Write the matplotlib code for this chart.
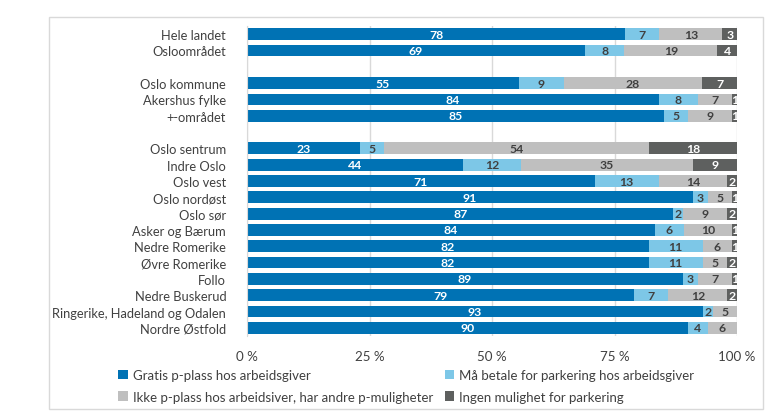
import matplotlib.pyplot as plt
from matplotlib.patches import Rectangle
import numpy as np

# Kategorier (None = tom rad mellom gruppene)
kategorier = ["Hele landet", "Osloområdet", None,
              "Oslo kommune", "Akershus fylke", "+-området", None,
              "Oslo sentrum", "Indre Oslo", "Oslo vest", "Oslo nordøst", "Oslo sør",
              "Asker og Bærum", "Nedre Romerike", "Øvre Romerike", "Follo",
              "Nedre Buskerud", "Ringerike, Hadeland og Odalen", "Nordre Østfold"]

gratis = [78, 69, None, 55, 84, 85, None, 23, 44, 71, 91, 87, 84, 82, 82, 89, 79, 93, 90]
betale = [7, 8, None, 9, 8, 5, None, 5, 12, 13, 3, 2, 6, 11, 11, 3, 7, 2, 4]
andre = [13, 19, None, 28, 7, 9, None, 54, 35, 14, 5, 9, 10, 6, 5, 7, 12, 5, 6]
ingen = [3, 4, None, 7, 1, 1, None, 18, 9, 2, 1, 2, 1, 1, 2, 1, 2, 0, 0]

serienavn = ["Gratis p-plass hos arbeidsgiver",
             "Må betale for parkering hos arbeidsgiver",
             "Ikke p-plass hos arbeidsiver, har andre p-muligheter",
             "Ingen mulighet for parkering"]
farger = ["#0072B4", "#7DC7E7", "#BFBFBF", "#5E605F"]
tekstfarger = ["white", "#404040", "#404040", "white"]

fig = plt.figure(figsize=(7.76, 4.14), dpi=100)
ax = fig.add_axes([247/776, 1-337/414, 490/776, 310/414])

# ramme rundt hele diagrammet
fig.patches.append(Rectangle((49/776, 4/414), 714/776, 392/414, transform=fig.transFigure,
                             fill=False, edgecolor="#D9D9D9", linewidth=1))

serier = [gratis, betale, andre, ingen]
for i, kat in enumerate(kategorier):
    if kat is None:
        continue
    verdier = np.array([s[i] for s in serier], dtype=float)
    andel = verdier / verdier.sum() * 100
    venstre = 0
    for j in range(4):
        ax.barh(i, andel[j], left=venstre, height=0.72, color=farger[j],
                label=serienavn[j] if i == 0 else None, zorder=2)
        if verdier[j] > 0:
            ax.text(venstre + andel[j] / 2, i, f"{int(verdier[j])}", ha="center", va="center",
                    color=tekstfarger[j], fontsize=8.8, fontweight="bold",
                    family="Lato", zorder=3)
        venstre += andel[j]

ax.set_ylim(18.5, -0.5)
ax.set_xlim(0, 100)
ax.set_yticks([i for i, k in enumerate(kategorier) if k is not None])
ax.set_yticklabels([k for k in kategorier if k is not None], family="Lato", fontsize=9.3,
                   color="#404040")
ax.set_xticks([0, 25, 50, 75, 100])
ax.set_xticklabels(["0 %", "25 %", "50 %", "75 %", "100 %"], family="Lato", fontsize=9.6,
                   color="#404040")
ax.tick_params(length=0)
ax.tick_params(axis="y", pad=15)
ax.tick_params(axis="x", pad=10)
for s in ["top", "right", "bottom"]:
    ax.spines[s].set_visible(False)
ax.spines["left"].set_color("#D9D9D9")
ax.grid(axis="x", color="#D9D9D9", linewidth=1, zorder=0)
ax.set_axisbelow(True)

handles, labels = ax.get_legend_handles_labels()
rekkefolge = [0, 2, 1, 3]
fig.legend([handles[k] for k in rekkefolge], [labels[k] for k in rekkefolge],
           loc="upper left", bbox_to_anchor=(113/776, 1-365/414), ncol=2,
           frameon=False, prop={"family": "Lato", "size": 9.5}, handlelength=0.7,
           handleheight=0.7, handletextpad=0.4, columnspacing=0.9, labelspacing=0.7,
           labelcolor="#404040", borderaxespad=0)

fig.savefig("out.png", dpi=100)
